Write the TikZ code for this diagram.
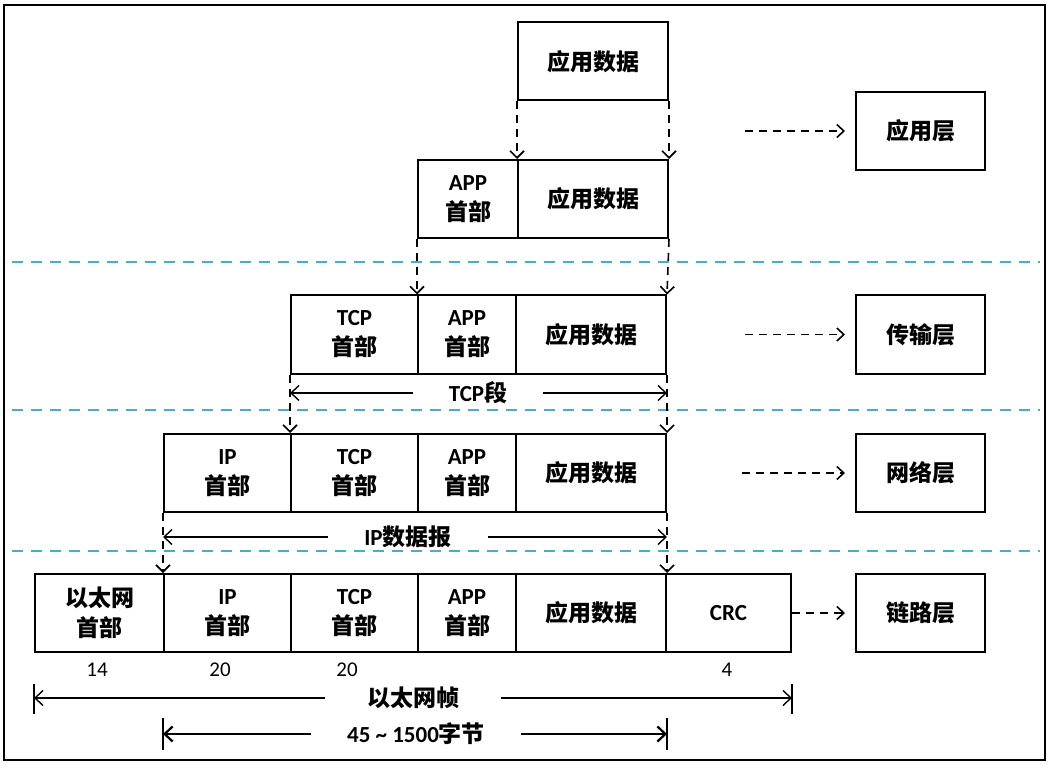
\documentclass[tikz,border=0pt]{standalone}
\usepackage{fontspec}
\usepackage{tikz}
\usetikzlibrary{arrows.meta}
\setmainfont{Carlito}
\newfontfamily\cjk{Noto Sans CJK SC}
\definecolor{sepblue}{RGB}{75,172,198}

\tikzset{
    cell/.style={draw, line width=2pt, minimum height=78pt, inner sep=0pt,
        align=center, font=\fontsize{23}{30}\selectfont},
    layerbox/.style={cell, minimum width=129pt},
    down/.style={line width=1.6pt, dash pattern=on 8pt off 6pt,
        -{Straight Barb[length=7pt,width=14pt]}},
    side/.style={line width=1.6pt, dash pattern=on 8pt off 6pt, shorten >=10pt,
        -{Straight Barb[length=7pt,width=13pt]}},
    dim/.style={line width=1.4pt, -{Straight Barb[length=8pt,width=15pt]}},
    dimlabel/.style={fill=white, inner xsep=36pt, inner ysep=2pt,
        font=\fontsize{23}{26}\selectfont},
    tick/.style={line width=1.4pt},
    sep/.style={sepblue, line width=1.8pt, dash pattern=on 11pt off 8pt},
    size/.style={font=\fontsize{21}{24}\selectfont}
}

\begin{document}
\begin{tikzpicture}[x=1pt,y=-1pt]
    \useasboundingbox (0,0) rectangle (1059,775);
    \draw[line width=2.6pt] (4,5) rectangle (1045,760);

    % layer separators
    \foreach \y in {262,410,551}
        \draw[sep] (12,\y) -- (1040,\y);

    % application data
    \node[cell, minimum width=150pt] (d1) at (593,61.5) {\cjk\bfseries 应用数据};

    \node[cell, minimum width=100pt] (a2) at (468,199) {\textbf{APP}\\{\cjk\bfseries 首部}};
    \node[cell, minimum width=150pt] (d2) at (593,199) {\cjk\bfseries 应用数据};

    % tcp segment
    \node[cell, minimum width=127pt] (t3) at (354.5,334.5) {\textbf{TCP}\\{\cjk\bfseries 首部}};
    \node[cell, minimum width=98pt] (a3) at (467,334.5) {\textbf{APP}\\{\cjk\bfseries 首部}};
    \node[cell, minimum width=150pt] (d3) at (591,334.5) {\cjk\bfseries 应用数据};

    % ip datagram
    \node[cell, minimum width=127pt] (i4) at (227.5,473) {\textbf{IP}\\{\cjk\bfseries 首部}};
    \node[cell, minimum width=127pt] (t4) at (354.5,473) {\textbf{TCP}\\{\cjk\bfseries 首部}};
    \node[cell, minimum width=98pt] (a4) at (467,473) {\textbf{APP}\\{\cjk\bfseries 首部}};
    \node[cell, minimum width=150pt] (d4) at (591,473) {\cjk\bfseries 应用数据};

    % ethernet frame
    \node[cell, minimum width=129pt] (e5) at (99.5,613) {{\cjk\bfseries 以太网}\\{\cjk\bfseries 首部}};
    \node[cell, minimum width=127pt] (i5) at (227.5,613) {\textbf{IP}\\{\cjk\bfseries 首部}};
    \node[cell, minimum width=127pt] (t5) at (354.5,613) {\textbf{TCP}\\{\cjk\bfseries 首部}};
    \node[cell, minimum width=98pt] (a5) at (467,613) {\textbf{APP}\\{\cjk\bfseries 首部}};
    \node[cell, minimum width=150pt] (d5) at (591,613) {\cjk\bfseries 应用数据};
    \node[cell, minimum width=125pt] (c5) at (728.5,613) {\textbf{CRC}};

    % encapsulation
    \draw[down] (d1.south west) -- (d2.north west);
    \draw[down] (d1.south east) -- (d2.north east);
    \draw[down] (a2.south west) -- (a3.north west);
    \draw[down] (d2.south east) -- (d3.north east);
    \draw[down] (t3.south west) -- (t4.north west);
    \draw[down] (d3.south east) -- (d4.north east);
    \draw[down] (i4.south west) -- (i5.north west);
    \draw[down] (d4.south east) -- (d5.north east);

    % layers
    \node[layerbox] (app) at (920.5,131) {\cjk\bfseries 应用层};
    \node[layerbox] (tra) at (920.5,334.5) {\cjk\bfseries 传输层};
    \node[layerbox] (net) at (920.5,473) {\cjk\bfseries 网络层};
    \node[layerbox] (lnk) at (920.5,613) {\cjk\bfseries 链路层};

    \coordinate (s1) at (745,131);
    \coordinate (s2) at (745,334.5);
    \coordinate (s3) at (742,473);
    \draw[side] (s1) -- (app.west);
    \draw[side] (s2) -- (tra.west);
    \draw[side] (s3) -- (net.west);
    \draw[side] (c5.east) -- (lnk.west);

    % lengths
    \node[dimlabel] (seg) at (478,393) {\textbf{TCP}{\cjk\bfseries 段}};
    \draw[dim] (seg.west) -- (t3.south west |- seg);
    \draw[dim] (seg.east) -- (d3.south east |- seg);

    \node[dimlabel] (dgram) at (408,537) {\textbf{IP}{\cjk\bfseries 数据报}};
    \draw[dim] (dgram.west) -- (i4.south west |- dgram);
    \draw[dim] (dgram.east) -- (d4.south east |- dgram);

    \node[size] (n1) at (97,670) {14};
    \node[size] (n2) at (220,670) {20};
    \node[size] (n3) at (347,670) {20};
    \node[size] (n4) at (727,670) {4};

    \node[dimlabel, inner xsep=42pt] (frame) at (413,698) {\cjk\bfseries 以太网帧};
    \draw[dim] (frame.west) -- (e5.south west |- frame);
    \draw[dim] (frame.east) -- (c5.south east |- frame);
    \draw[tick] (e5.south west |- frame) ++(0,-14) -- ++(0,30);
    \draw[tick] (c5.south east |- frame) ++(0,-14) -- ++(0,30);

    \node[dimlabel] (load) at (416,734) {\textbf{45 \textasciitilde{} 1500}{\cjk\bfseries 字节}};
    \draw[dim, line width=2.2pt] (load.west) -- (i5.south west |- load);
    \draw[dim, line width=2.2pt] (load.east) -- (d5.south east |- load);
    \draw[tick] (i5.south west |- load) ++(0,-16) -- ++(0,32);
    \draw[tick] (d5.south east |- load) ++(0,-16) -- ++(0,32);
\end{tikzpicture}
\end{document}
